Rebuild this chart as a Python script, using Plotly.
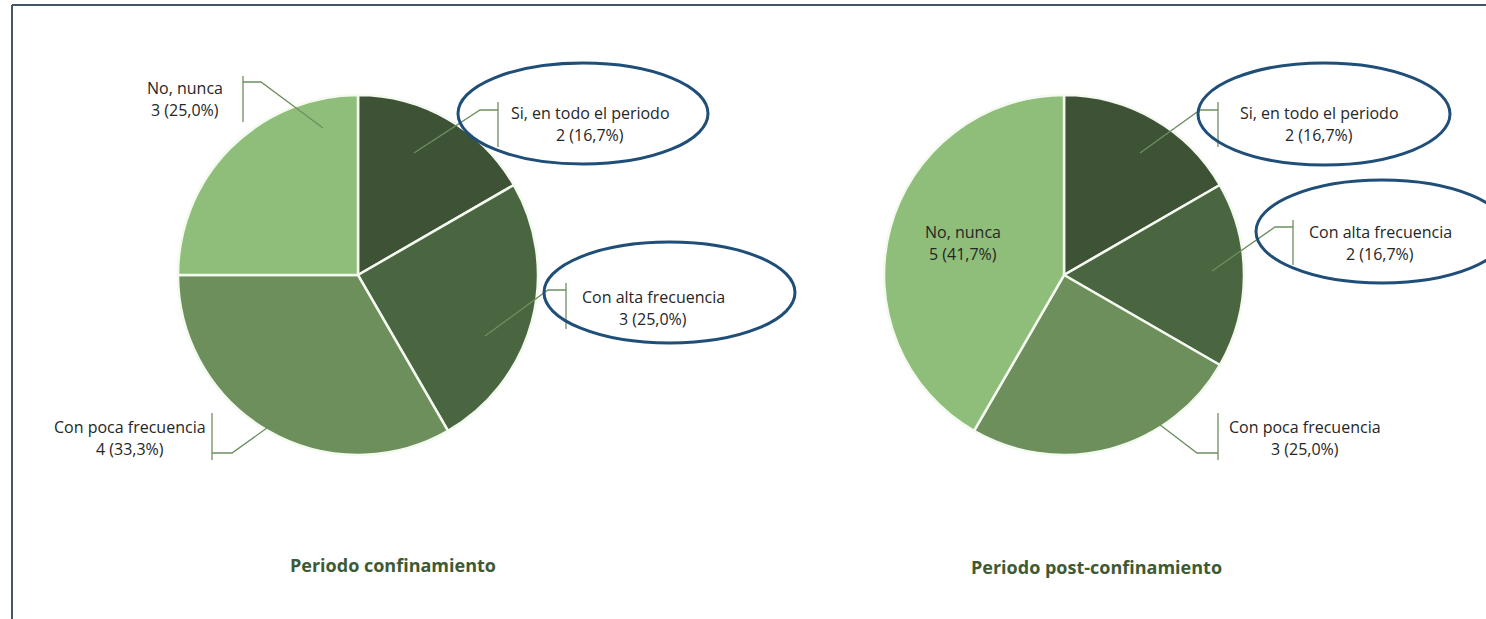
import plotly.graph_objects as go

# Survey answers, in clockwise order starting at 12 o'clock
categories = ["Si, en todo el periodo", "Con alta frecuencia", "Con poca frecuencia", "No, nunca"]
counts_confinamiento = [2, 3, 4, 3]
counts_post = [2, 2, 3, 5]
titles = ["Periodo confinamiento", "Periodo post-confinamiento"]

slice_colors = ["#3E5336", "#4A6640", "#6C8F5C", "#8FBE7A"]

W, H = 1486, 619


def px(x):
    return x / W


def py(y):
    return 1 - y / H


def pct(v, total):
    return f"{v} ({100 * v / total:.1f}%)".replace(".", ",")


# Pie placement (pixel centre, radius)
pies = [
    {"cx": 358, "cy": 275, "r": 180, "values": counts_confinamiento},
    {"cx": 1064, "cy": 275, "r": 180, "values": counts_post},
]

# Callout layout per pie: category index -> text centre, leader path, bracket bar
callouts = [
    {
        3: {"text": (185, 88), "path": [(323, 128), (261, 82), (243, 82)], "bar": (243, 76, 122)},
        0: {"text": (590, 113), "path": [(414, 153), (480, 110), (498, 110)], "bar": (498, 102, 147)},
        1: {"text": (653, 297), "path": [(485, 336), (548, 290), (566, 290)], "bar": (566, 283, 329)},
        2: {"text": (130, 427), "path": [(295, 408), (232, 453), (212, 453)], "bar": (212, 413, 460)},
    },
    {
        3: {"text": (963, 232), "path": None, "bar": None},
        0: {"text": (1319, 113), "path": [(1140, 153), (1200, 110), (1218, 110)], "bar": (1218, 102, 147)},
        1: {"text": (1380, 232), "path": [(1212, 271), (1275, 227), (1293, 227)], "bar": (1293, 220, 265)},
        2: {"text": (1305, 427), "path": [(1138, 408), (1197, 453), (1218, 453)], "bar": (1218, 413, 460)},
    },
]

# Highlight ellipses (pixel bounding boxes)
ellipses = [
    (458, 63, 708, 164),
    (544, 242, 795, 343),
    (1198, 63, 1450, 165),
    (1256, 180, 1508, 283),
]
title_pos = [(393, 565), (1096, 567)]

fig = go.Figure()
shapes = []
annotations = []
label_font = dict(family="Open Sans", size=16, color="#262626")
leader_color = "#6E8F60"

for i, pie in enumerate(pies):
    cx, cy, r = pie["cx"], pie["cy"], pie["r"]
    fig.add_trace(go.Pie(
        labels=categories,
        values=pie["values"],
        sort=False,
        direction="clockwise",
        rotation=0,
        textinfo="none",
        hoverinfo="label+value+percent",
        marker=dict(colors=slice_colors, line=dict(color="#F4FAF0", width=2.5)),
        domain=dict(x=[px(cx - r), px(cx + r)], y=[py(cy + r), py(cy - r)]),
        showlegend=False,
    ))
    total = sum(pie["values"])
    for k, cat in enumerate(categories):
        c = callouts[i][k]
        tx, ty = c["text"]
        for line, yy in ((cat, ty), (pct(pie["values"][k], total), ty + 22)):
            annotations.append(dict(
                x=px(tx), y=py(yy), xref="paper", yref="paper",
                text=line, showarrow=False, font=label_font,
                xanchor="center", yanchor="middle",
            ))
        if c["path"]:
            pts = c["path"]
            d = "M " + " L ".join(f"{px(a)},{py(b)}" for a, b in pts)
            shapes.append(dict(type="path", path=d, xref="paper", yref="paper",
                               line=dict(color=leader_color, width=1.3)))
            bx, by0, by1 = c["bar"]
            shapes.append(dict(type="line", xref="paper", yref="paper",
                               x0=px(bx), x1=px(bx), y0=py(by0), y1=py(by1),
                               line=dict(color=leader_color, width=1.3)))
    tx, ty = title_pos[i]
    annotations.append(dict(
        x=px(tx), y=py(ty), xref="paper", yref="paper", text=f"<b>{titles[i]}</b>",
        showarrow=False, font=dict(family="Open Sans", size=18, color="#3D5A34"),
        xanchor="center", yanchor="middle",
    ))

for x0, y0, x1, y1 in ellipses:
    shapes.append(dict(type="circle", xref="paper", yref="paper",
                       x0=px(x0), x1=px(x1), y0=py(y1), y1=py(y0),
                       line=dict(color="#1F4E79", width=3)))

# Frame along the top and left edges
shapes.append(dict(type="line", xref="paper", yref="paper", x0=px(12), x1=1.0,
                   y0=py(5), y1=py(5), line=dict(color="#44546A", width=2)))
shapes.append(dict(type="line", xref="paper", yref="paper", x0=px(12), x1=px(12),
                   y0=py(5), y1=0, line=dict(color="#44546A", width=2)))

fig.update_layout(
    width=W, height=H,
    margin=dict(l=0, r=0, t=0, b=0),
    paper_bgcolor="white", plot_bgcolor="white",
    shapes=shapes, annotations=annotations,
)

fig.write_html("out.html")
